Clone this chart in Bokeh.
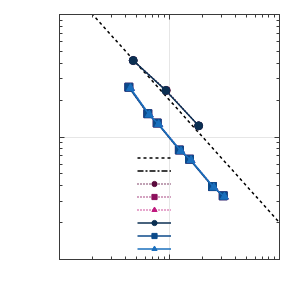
from bokeh.plotting import figure
from bokeh.models import Range1d, LogAxis, Legend, LegendItem, FixedTicker
from bokeh.embed import file_html
from bokeh.resources import INLINE

# reference slope line
ref_x = [1.0, 100.0]
ref_y = [2.0, 0.02]
# dash-dot reference (lies below the visible range)
ref2_x = [1.0, 100.0]
ref2_y = [0.005, 0.00005]

# circle series
circ_x = [4.68, 9.25, 18.4]
circ_y = [0.421, 0.240, 0.1234]
# square series
sq_x = [4.27, 6.35, 7.73, 12.3, 15.2, 24.6, 30.8]
sq_y = [0.255, 0.155, 0.130, 0.0783, 0.0659, 0.0394, 0.0331]
# triangle series
tri_x = [4.42, 6.55, 7.98, 12.7, 15.7, 25.3, 31.6]
tri_y = [0.250, 0.152, 0.127, 0.0768, 0.0646, 0.0387, 0.0325]

# dotted series (hidden beneath the solid ones)
dcirc_x = [4.68, 9.35, 18.4]
dcirc_y = [0.421, 0.240, 0.1234]
dsq_x = [4.27, 6.35, 7.73, 12.3, 15.2, 24.6, 30.8]
dsq_y = [0.255, 0.155, 0.130, 0.0783, 0.0659, 0.0394, 0.0331]
dtri_x = [4.42, 6.55, 7.98, 12.7, 15.7, 25.3, 31.6]
dtri_y = [0.250, 0.152, 0.127, 0.0768, 0.0646, 0.0387, 0.0325]

x_major = [1, 10, 100]
x_minor = [m * d for d in (1, 10) for m in range(2, 10)]
y_major = [0.01, 0.1, 1]
y_minor = [m * d for d in (0.01, 0.1) for m in range(2, 10)]

p = figure(frame_width=220, frame_height=245, x_axis_type="log", y_axis_type="log",
           x_range=Range1d(1, 100), y_range=Range1d(0.01, 1),
           output_backend="svg", toolbar_location=None,
           min_border_left=59, min_border_right=8, min_border_top=14, min_border_bottom=25)
p.outline_line_color = "#3a3a3a"

above = LogAxis()
right = LogAxis()
p.add_layout(above, "above")
p.add_layout(right, "right")
xt = FixedTicker(ticks=x_major, minor_ticks=x_minor)
yt = FixedTicker(ticks=y_major, minor_ticks=y_minor)
for ax in p.xaxis:
    ax.ticker = xt
for ax in p.yaxis:
    ax.ticker = yt
p.xgrid.ticker = xt
p.ygrid.ticker = yt
p.grid.grid_line_color = "#e6e6e6"
for ax in p.axis:
    ax.major_label_text_font_size = "1px"
    ax.major_label_text_alpha = 0
    ax.major_tick_in = 5
    ax.major_tick_out = 0
    ax.minor_tick_in = 3
    ax.minor_tick_out = 0
    ax.axis_line_color = "#3a3a3a"
    ax.major_tick_line_color = "#3a3a3a"
    ax.minor_tick_line_color = "#3a3a3a"
    ax.major_label_standoff = 0

items = []
r = p.line(ref_x, ref_y, line_color="black", line_width=1.5, line_dash="3 3")
items.append(LegendItem(label="\u00a0", renderers=[r]))
r = p.line(ref2_x, ref2_y, line_color="black", line_width=1.5, line_dash="6 2 2 2")
items.append(LegendItem(label="\u00a0", renderers=[r]))

dotted = [(dcirc_x, dcirc_y, "circle", "#5a0a3c"),
          (dsq_x, dsq_y, "square", "#8c0f5c"),
          (dtri_x, dtri_y, "triangle", "#c0197e")]
for xs, ys, mk, c in dotted:
    l = p.line(xs, ys, line_color=c, line_width=1.5, line_dash="1 2")
    s = p.scatter(xs, ys, marker=mk, size=8, fill_color=c, line_color=c)
    items.append(LegendItem(label="\u00a0", renderers=[l, s]))

solid = [(circ_x, circ_y, "circle", "#0b2f52"),
         (sq_x, sq_y, "square", "#0c4a8a"),
         (tri_x, tri_y, "triangle", "#1a6fbd")]
for xs, ys, mk, c in solid:
    l = p.line(xs, ys, line_color=c, line_width=1.5)
    s = p.scatter(xs, ys, marker=mk, size=8, fill_color=c, line_color=c)
    items.append(LegendItem(label="\u00a0", renderers=[l, s]))

legend = Legend(items=items, location=(78, 4), padding=0, margin=0, spacing=0,
                glyph_width=34, glyph_height=13, label_height=13, label_width=1,
                label_standoff=0, label_text_font_size="8px",
                border_line_color=None, background_fill_alpha=0)
p.add_layout(legend, "center")

open("out.html", "w").write(file_html(p, INLINE))
